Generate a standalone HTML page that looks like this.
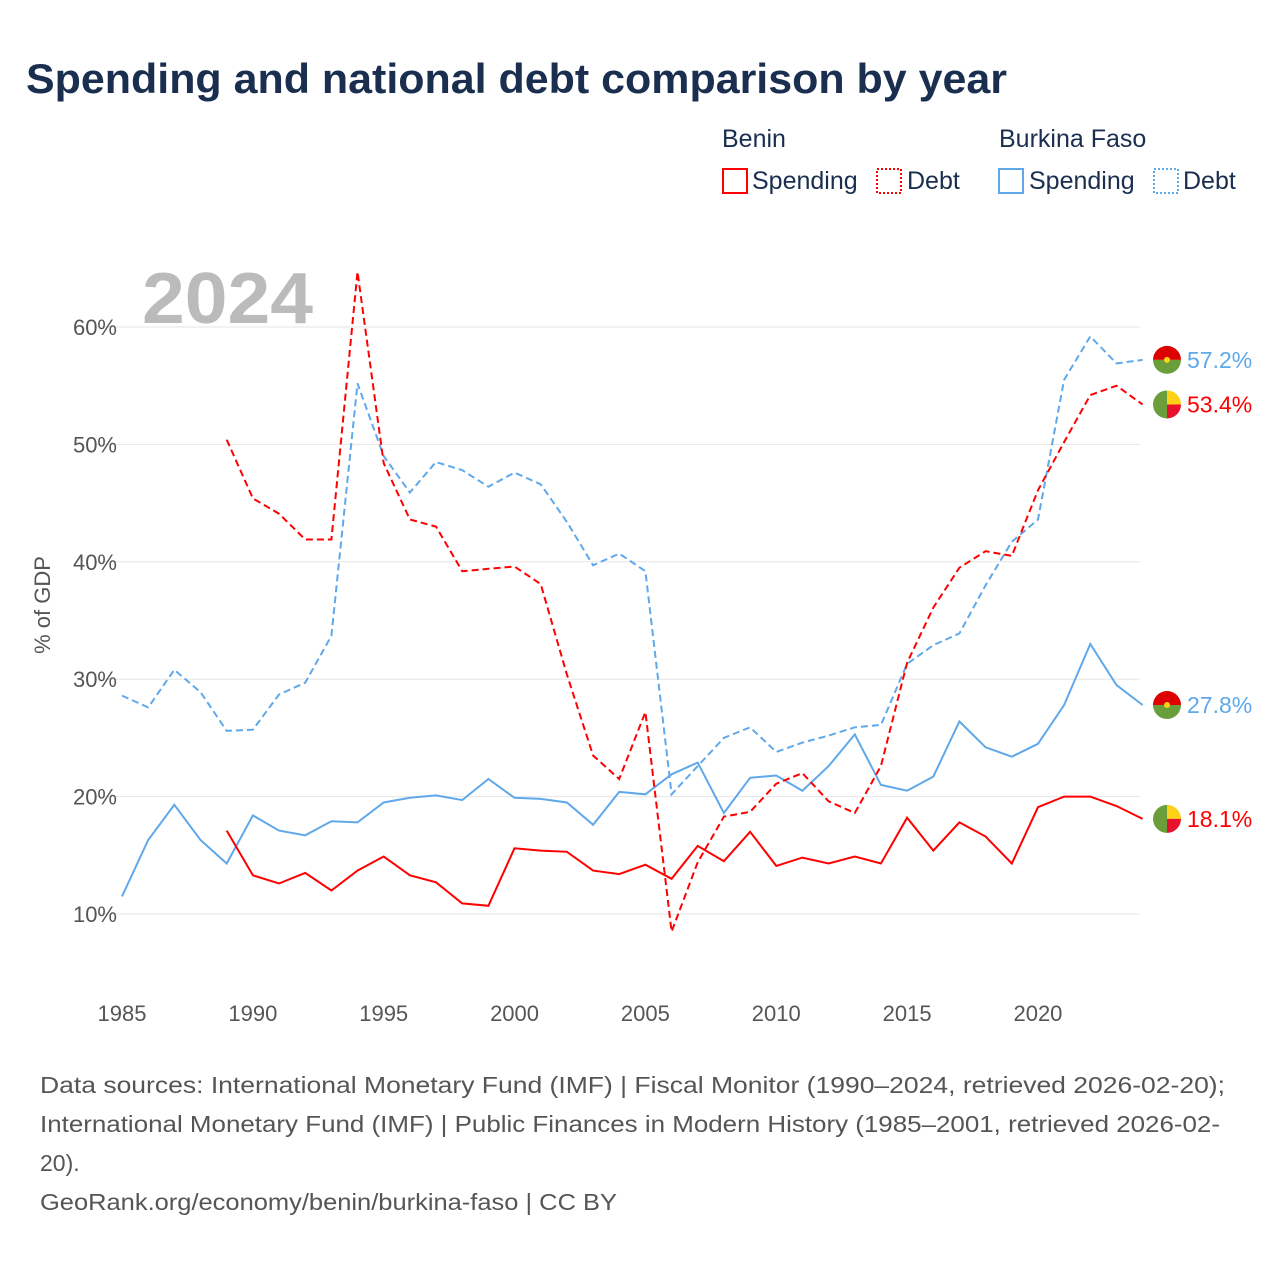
<!DOCTYPE html>
<html><head><meta charset="utf-8"><style>
body{margin:0;background:#fff;font-family:"Liberation Sans",sans-serif;}
#wrap{position:relative;width:1280px;height:1280px;overflow:hidden;}
</style></head><body>
<div id="wrap">
<svg id="svg" width="1280" height="1280">
<text x="26" y="93" font-size="42" font-weight="bold" fill="#1a2e4f" textLength="981" lengthAdjust="spacingAndGlyphs">Spending and national debt comparison by year</text>
<g font-size="25" fill="#1a2e4f">
<text x="722" y="147">Benin</text>
<text x="999" y="147">Burkina Faso</text>
<rect x="723" y="169" width="24" height="24" fill="none" stroke="#f00" stroke-width="2"/>
<text x="752" y="189">Spending</text>
<rect x="877" y="169" width="24" height="24" fill="none" stroke="#f00" stroke-width="2" stroke-dasharray="2,2"/>
<text x="907" y="189">Debt</text>
<rect x="999" y="169" width="24" height="24" fill="none" stroke="#5fa8ea" stroke-width="2"/>
<text x="1029" y="189">Spending</text>
<rect x="1154" y="169" width="24" height="24" fill="none" stroke="#5fa8ea" stroke-width="2" stroke-dasharray="2,2"/>
<text x="1183" y="189">Debt</text>
</g>
<text x="142" y="323" font-size="72" font-weight="bold" fill="#bbb" textLength="171" lengthAdjust="spacingAndGlyphs">2024</text>
<g id="grid"></g><g id="series"></g><g id="labels"></g>
<text transform="translate(50,605) rotate(-90)" text-anchor="middle" font-size="22" fill="#555">% of GDP</text>
<g font-size="23" fill="#555">
<text x="40" y="1093" textLength="1185" lengthAdjust="spacingAndGlyphs">Data sources: International Monetary Fund (IMF) | Fiscal Monitor (1990–2024, retrieved 2026-02-20);</text>
<text x="40" y="1132" textLength="1180" lengthAdjust="spacingAndGlyphs">International Monetary Fund (IMF) | Public Finances in Modern History (1985–2001, retrieved 2026-02-</text>
<text x="40" y="1171">20).</text>
<text x="40" y="1210" textLength="577" lengthAdjust="spacingAndGlyphs">GeoRank.org/economy/benin/burkina-faso | CC BY</text>
</g>
</svg>
</div>
<script>
const yTicks=[10,20,30,40,50,60];
const xTicks=[1985,1990,1995,2000,2005,2010,2015,2020];
const beninYears0=1989, burkinaYears0=1985;
const beninSpending=[17.1,13.3,12.6,13.5,12.0,13.7,14.9,13.3,12.7,10.9,10.7,15.6,15.4,15.3,13.7,13.4,14.2,13.0,15.8,14.5,17.0,14.1,14.8,14.3,14.9,14.3,18.2,15.4,17.8,16.6,14.3,19.1,20.0,20.0,19.2,18.1];
const beninDebt=[50.4,45.4,44.1,41.9,41.9,64.7,48.4,43.6,43.0,39.2,39.4,39.6,38.1,30.4,23.5,21.5,27.2,8.5,14.4,18.3,18.7,21.1,22.0,19.6,18.6,22.6,31.4,36.1,39.5,40.9,40.5,46.1,50.2,54.2,55.0,53.4];
const burkinaSpending=[11.5,16.3,19.3,16.3,14.3,18.4,17.1,16.7,17.9,17.8,19.5,19.9,20.1,19.7,21.5,19.9,19.8,19.5,17.6,20.4,20.2,21.9,22.9,18.6,21.6,21.8,20.5,22.6,25.3,21.0,20.5,21.7,26.4,24.2,23.4,24.5,27.8,33.0,29.5,27.8];
const burkinaDebt=[28.6,27.6,30.8,28.9,25.6,25.7,28.7,29.7,33.7,55.2,49.0,45.9,48.5,47.8,46.4,47.6,46.6,43.4,39.7,40.7,39.2,20.2,22.6,25.0,25.9,23.8,24.6,25.2,25.9,26.1,31.3,32.9,33.9,38.0,41.7,43.6,55.5,59.2,56.9,57.2];
const NS='http://www.w3.org/2000/svg';
const X=y=>122+(y-1985)*26.17, Y=v=>914-(v-10)*11.74;
function mk(t,a,p){const e=document.createElementNS(NS,t);for(const k in a)e.setAttribute(k,a[k]);p.appendChild(e);return e;}
const grid=document.getElementById('grid');
yTicks.forEach(t=>{
 const l=mk('line',{x1:95,x2:1140,y1:Y(t),y2:Y(t),stroke:'#e6e6e6'},grid);
 
 
 const tx=mk('text',{x:117,y:Y(t)+8,'text-anchor':'end','font-size':22,fill:'#555'},grid);tx.textContent=t+'%';
 
 
});
xTicks.forEach(t=>{
 const tx=mk('text',{x:X(t),y:1021,'text-anchor':'middle','font-size':22,fill:'#555'},grid);tx.textContent=t;
 
 
});
const S=document.getElementById('series');
function line(d,y0,col,dash,name){
 const pts=d.map((v,i)=>X(y0+i).toFixed(1)+','+Y(v).toFixed(1)).join(' ');
 const p=mk('polyline',{points:pts,fill:'none',stroke:col,'stroke-width':2,'stroke-dasharray':dash},S);
 
 
}
line(burkinaDebt,burkinaYears0,'#5fa8ea','7,4','line-burkina-debt');
line(burkinaSpending,burkinaYears0,'#5fa8ea','none','line-burkina-spending');
line(beninDebt,beninYears0,'#f00','7,4','line-benin-debt');
line(beninSpending,beninYears0,'#f00','none','line-benin-spending');
const L=document.getElementById('labels');
function flag(v,kind,col){
 const cx=1167,cy=Y(v),r=14;
 const g=mk('g',{},L);
 
 
 if(kind==='burkina'){
  mk('path',{d:`M${cx-r},${cy}A${r},${r} 0 0 1 ${cx+r},${cy}Z`,fill:'#de0000'},g);
  mk('path',{d:`M${cx-r},${cy}A${r},${r} 0 0 0 ${cx+r},${cy}Z`,fill:'#6a9e3a'},g);
  mk('circle',{cx:cx,cy:cy,r:3,fill:'#fcd116'},g);
 }else{
  mk('path',{d:`M${cx},${cy-r}A${r},${r} 0 0 0 ${cx},${cy+r}Z`,fill:'#6a9e3a'},g);
  mk('path',{d:`M${cx},${cy-r}A${r},${r} 0 0 1 ${cx+r},${cy}L${cx},${cy}Z`,fill:'#fcd116'},g);
  mk('path',{d:`M${cx},${cy+r}A${r},${r} 0 0 0 ${cx+r},${cy}L${cx},${cy}Z`,fill:'#e8112d'},g);
 }
 const t=mk('text',{x:1187,y:cy+8,'font-size':23,fill:col},L);t.textContent=v.toFixed(1)+'%';
 
 
}
flag(burkinaDebt[burkinaDebt.length-1],'burkina','#5fa8ea');
flag(beninDebt[beninDebt.length-1],'benin','#f00');
flag(burkinaSpending[burkinaSpending.length-1],'burkina','#5fa8ea');
flag(beninSpending[beninSpending.length-1],'benin','#f00');
</script>
</body></html>
